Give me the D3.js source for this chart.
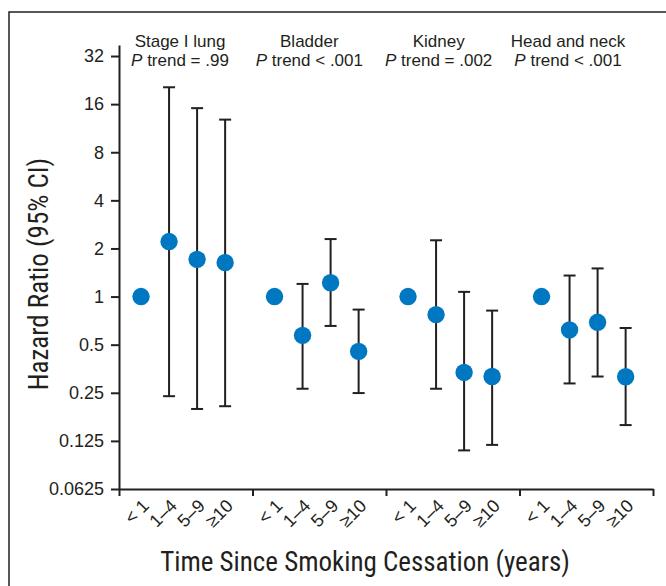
<!DOCTYPE html>
<html>
<head>
<meta charset="utf-8">
<script src="https://cdn.jsdelivr.net/npm/d3@7"></script>
<style>
  html, body { margin: 0; padding: 0; background: #fff; }
  svg { display: block; }
  text { fill: #231f20; }
</style>
</head>
<body>
<svg id="chart" width="666" height="586"></svg>
<script>
// ---- data ----
const groups = ["Stage I lung", "Bladder", "Kidney", "Head and neck"];
const pTrends = ["= .99", "< .001", "= .002", "< .001"];
const periods = ["< 1", "1–4", "5–9", "≥10"];
const yTickValues = [0.0625, 0.125, 0.25, 0.5, 1, 2, 4, 8, 16, 32];
const yTickLabels = ["0.0625", "0.125", "0.25", "0.5", "1", "2", "4", "8", "16", "32"];

// hazard ratios, per group, per period
const hr    = [[1, 2.21, 1.71, 1.63], [1, 0.572, 1.22, 0.454], [1, 0.771, 0.335, 0.316], [1, 0.618, 0.690, 0.315]];
const ciLow = [[null, 0.238, 0.198, 0.206], [null, 0.265, 0.655, 0.249], [null, 0.265, 0.109, 0.118], [null, 0.286, 0.316, 0.157]];
const ciHigh= [[null, 20.4, 15.1, 12.8], [null, 1.20, 2.29, 0.829], [null, 2.25, 1.07, 0.817], [null, 1.354, 1.50, 0.636]];

const xTitle = "Time Since Smoking Cessation (years)";
const yTitle = "Hazard Ratio (95% CI)";

// ---- layout ----
const svg = d3.select("#chart");
const ink = "#231f20";
const blue = "#0077c1";
const axisX0 = 119, axisX1 = 653, axisY0 = 489, axisYTop = 45;

// frame
svg.append("rect").attr("x", 9).attr("y", 12).attr("width", 800).attr("height", 800)
  .attr("fill", "none").attr("stroke", ink).attr("stroke-width", 1.5);

const y = d3.scaleLog().base(2)
  .domain([0.0625, 32 * Math.pow(2, 11 / 48)])
  .range([axisY0, axisYTop]);

const x = d3.scaleLinear().domain([0, groups.length]).range([axisX0, axisX1]);
const headerX = d3.scaleLinear().domain([0, groups.length - 1]).range([180, 568]);
const posX = (g, i) => x(g + 0.165 + 0.21 * i);

// y axis
const yAxis = d3.axisLeft(y).tickValues(yTickValues)
  .tickFormat((d, i) => yTickLabels[i]).tickSize(8).tickSizeOuter(0).tickPadding(7);
const gy = svg.append("g").attr("transform", `translate(${axisX0},0)`).call(yAxis);
gy.selectAll("path, line").attr("stroke", ink).attr("stroke-width", 2);
gy.selectAll("text").attr("font-family", "'Liberation Sans', Arial, sans-serif")
  .attr("font-size", 18).attr("fill", ink);

// x axis (group separators)
const xAxis = d3.axisBottom(x).tickValues(d3.range(groups.length + 1))
  .tickFormat("").tickSize(7).tickSizeOuter(0);
const gx = svg.append("g").attr("transform", `translate(0,${axisY0})`).call(xAxis);
gx.selectAll("path, line").attr("stroke", ink).attr("stroke-width", 2);

// x period labels
const flat = [];
groups.forEach((gName, g) => periods.forEach((p, i) => flat.push({
  g, i, label: p, hr: hr[g][i], lo: ciLow[g][i], hi: ciHigh[g][i]
})));

svg.append("g").selectAll("text").data(flat).join("text")
  .attr("transform", d => `translate(${posX(d.g, d.i) + 9},${axisY0 + 18}) rotate(-45)`)
  .attr("text-anchor", "end")
  .attr("font-family", "'Liberation Sans', Arial, sans-serif")
  .attr("font-size", 18)
  .text(d => d.label);

// error bars
const capW = 6;
const eb = svg.append("g").attr("stroke", ink).attr("stroke-width", 2).attr("fill", "none");
const withCI = flat.filter(d => d.lo != null);
eb.selectAll("line.v").data(withCI).join("line").attr("class", "v")
  .attr("x1", d => posX(d.g, d.i)).attr("x2", d => posX(d.g, d.i))
  .attr("y1", d => y(d.lo)).attr("y2", d => y(d.hi));
eb.selectAll("line.hi").data(withCI).join("line").attr("class", "hi")
  .attr("x1", d => posX(d.g, d.i) - capW).attr("x2", d => posX(d.g, d.i) + capW)
  .attr("y1", d => y(d.hi)).attr("y2", d => y(d.hi));
eb.selectAll("line.lo").data(withCI).join("line").attr("class", "lo")
  .attr("x1", d => posX(d.g, d.i) - capW).attr("x2", d => posX(d.g, d.i) + capW)
  .attr("y1", d => y(d.lo)).attr("y2", d => y(d.lo));

// points
svg.append("g").selectAll("circle").data(flat).join("circle")
  .attr("cx", d => posX(d.g, d.i)).attr("cy", d => y(d.hr))
  .attr("r", 8.7).attr("fill", blue);

// group headers
const hdr = svg.append("g").attr("font-family", "'Liberation Sans', Arial, sans-serif")
  .attr("font-size", 17).attr("text-anchor", "middle");
hdr.selectAll("text.name").data(groups).join("text").attr("class", "name")
  .attr("x", (d, g) => headerX(g)).attr("y", 47).text(d => d);
const pt = hdr.selectAll("text.p").data(pTrends).join("text").attr("class", "p")
  .attr("x", (d, g) => headerX(g)).attr("y", 66);
pt.append("tspan").attr("font-style", "italic").text("P");
pt.append("tspan").text(d => " trend " + d);

// axis titles
const narrow = "'Liberation Sans Narrow', 'Arial Narrow', 'Roboto Condensed', sans-serif";
svg.append("text").attr("x", 365).attr("y", 571).attr("text-anchor", "middle")
  .attr("font-family", narrow).attr("font-size", 27).text(xTitle);
svg.append("text").attr("transform", "translate(48,274) rotate(-90)")
  .attr("text-anchor", "middle").attr("font-family", narrow).attr("font-size", 27).text(yTitle);
</script>
</body>
</html>
